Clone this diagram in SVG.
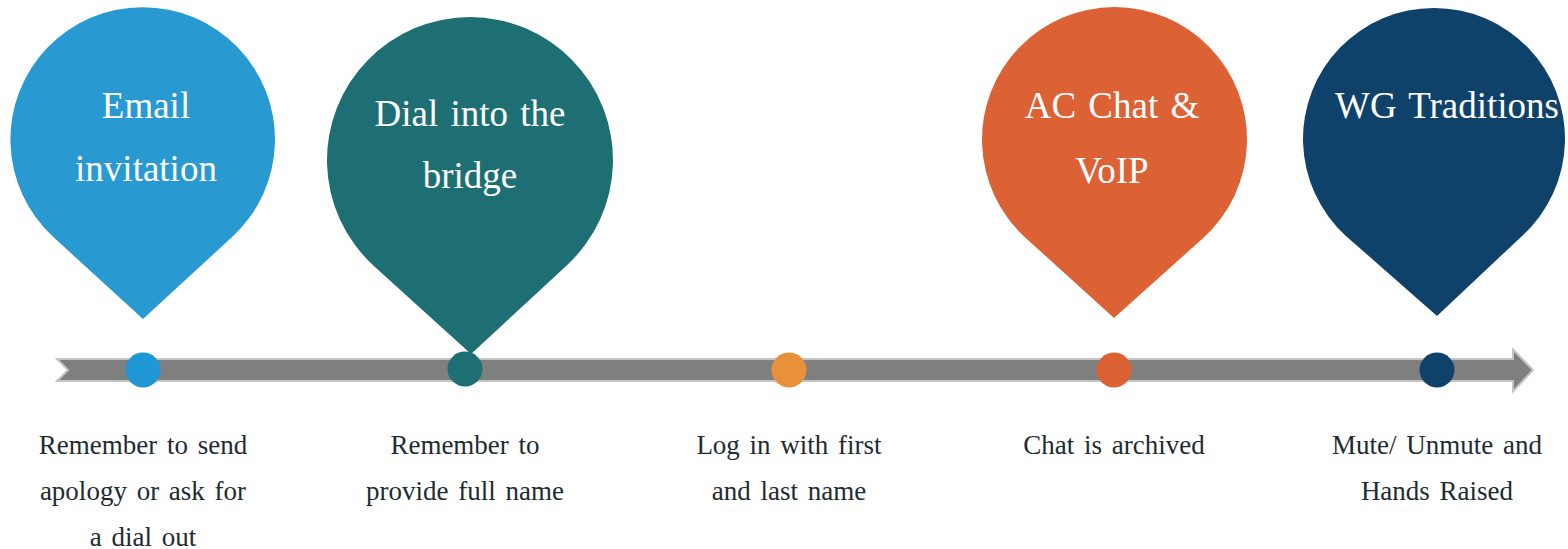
<svg xmlns="http://www.w3.org/2000/svg" width="1568" height="549" viewBox="0 0 1568 549">
  <style>
    .pin-text { font-family: "Liberation Serif", "DejaVu Serif", serif; font-size: 37px; fill: #FFFFFF; text-anchor: middle; word-spacing: 3px; }
    .note { font-family: "Liberation Serif", "DejaVu Serif", serif; font-size: 27px; fill: #1E2B30; text-anchor: middle; word-spacing: 3px; }
    .bar { fill: #7F7F7F; stroke: #C4C4C4; stroke-width: 2; stroke-linejoin: miter; }
  </style>
  <rect width="1568" height="549" fill="#FFFFFF"/>

  <g id="connectors">
    <polygon class="bar" points="57,359 1513,359 1513,349.5 1533,370 1513,391.5 1513,381 57,381 68,370"/>
  </g>

  <g id="node-email">
    <path d="M143,319 L53.3,237 A132.3,132.3 0 1 1 232.1,237 Z" fill="#2899D1"/>
    <text class="pin-text" x="146" y="118">Email</text>
    <text class="pin-text" x="146" y="181">invitation</text>
    <circle cx="143" cy="370" r="17.5" fill="#1F97D4"/>
    <text class="note" x="143" y="454">Remember to send</text>
    <text class="note" x="143" y="500">apology or ask for</text>
    <text class="note" x="143" y="546">a dial out</text>
  </g>

  <g id="node-dial">
    <path d="M471,354 L373.3,265.4 A143,143 0 1 1 566.7,265.4 Z" fill="#1D6F73"/>
    <text class="pin-text" x="470" y="126">Dial into the</text>
    <text class="pin-text" x="470" y="188">bridge</text>
    <circle cx="465" cy="369" r="17.5" fill="#1D6F73"/>
    <text class="note" x="465" y="454">Remember to</text>
    <text class="note" x="465" y="500">provide full name</text>
  </g>

  <g id="node-login">
    <circle cx="789" cy="370" r="17.5" fill="#E8913A"/>
    <text class="note" x="789" y="454">Log in with first</text>
    <text class="note" x="789" y="500">and last name</text>
  </g>

  <g id="node-chat">
    <path d="M1114,318 L1025.7,237.9 A132.5,132.5 0 1 1 1203.3,237.9 Z" fill="#DC6135"/>
    <text class="pin-text" x="1112" y="118">AC Chat &amp;</text>
    <text class="pin-text" x="1112" y="183">VoIP</text>
    <circle cx="1114" cy="370" r="17.5" fill="#DC6135"/>
    <text class="note" x="1114" y="454">Chat is archived</text>
  </g>

  <g id="node-wg">
    <path d="M1437,316 L1345.9,235.9 A131,131 0 1 1 1522.1,235.9 Z" fill="#0F426B"/>
    <text class="pin-text" x="1447" y="118">WG Traditions</text>
    <circle cx="1437" cy="370" r="17.5" fill="#0F426B"/>
    <text class="note" x="1437" y="454">Mute/ Unmute and</text>
    <text class="note" x="1437" y="500">Hands Raised</text>
  </g>
</svg>
